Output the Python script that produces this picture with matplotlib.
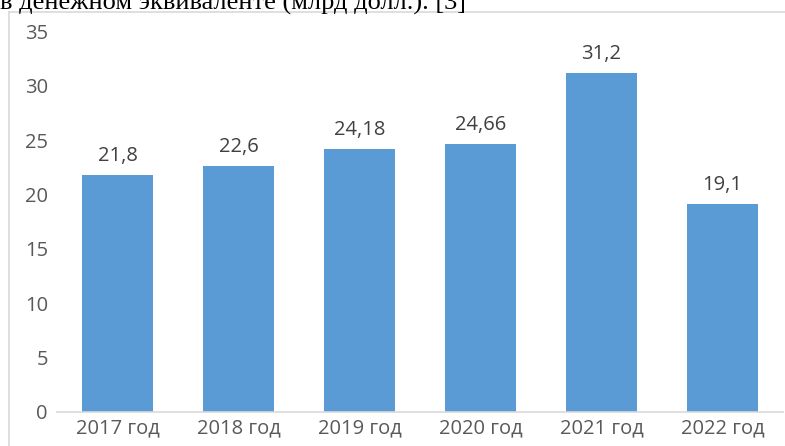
import matplotlib
matplotlib.use("Agg")
import matplotlib.pyplot as plt
from matplotlib.lines import Line2D

# значения по годам, млрд долл.
years = ["2017 год", "2018 год", "2019 год", "2020 год", "2021 год", "2022 год"]
values = [21.8, 22.6, 24.18, 24.66, 31.2, 19.1]
y_ticks = [0, 5, 10, 15, 20, 25, 30, 35]

BAR_COLOR = "#5B9BD5"
TICK_COLOR = "#595959"
LABEL_COLOR = "#404040"
FRAME_COLOR = "#D9D9D9"
FONT = "Open Sans"
FS = 14.5

W, H = 785, 446
fig = plt.figure(figsize=(W / 100, H / 100), dpi=100)

# хвост подписи из текста документа над диаграммой
fig.text(0.0, 1 - 9.5 / H, "в денежном эквиваленте (млрд долл.). [3]",
         family="Liberation Serif", fontsize=19, color="black",
         ha="left", va="baseline")

# рамка области диаграммы (уходит за край)
fig.add_artist(Line2D([9 / W, 9 / W], [0, 1 - 12 / H], color=FRAME_COLOR, lw=1.2))
fig.add_artist(Line2D([9 / W, 1], [1 - 12 / H, 1 - 12 / H], color=FRAME_COLOR, lw=1.2))

ax = fig.add_axes([57 / W, (H - 411.7) / H, 726 / W, 380 / H])
x = range(len(years))
bars = ax.bar(x, values, width=0.58, color=BAR_COLOR)
ax.bar_label(bars, labels=[str(v).replace(".", ",") for v in values],
             padding=6.5, fontsize=FS, color=LABEL_COLOR, family=FONT)

ax.set_xlim(-0.5, len(years) - 0.5)
ax.set_ylim(0, 35)
ax.set_yticks(y_ticks)
ax.set_xticks(list(x))
ax.set_xticklabels(years)

for s in ("top", "right", "left"):
    ax.spines[s].set_visible(False)
ax.spines["bottom"].set_color(FRAME_COLOR)
ax.spines["bottom"].set_linewidth(1.2)
ax.tick_params(axis="both", length=0, labelsize=FS, labelcolor=TICK_COLOR)
ax.tick_params(axis="y", pad=6.5)
ax.tick_params(axis="x", pad=5)
for lbl in ax.get_xticklabels() + ax.get_yticklabels():
    lbl.set_family(FONT)

fig.savefig("out.png", dpi=100)
